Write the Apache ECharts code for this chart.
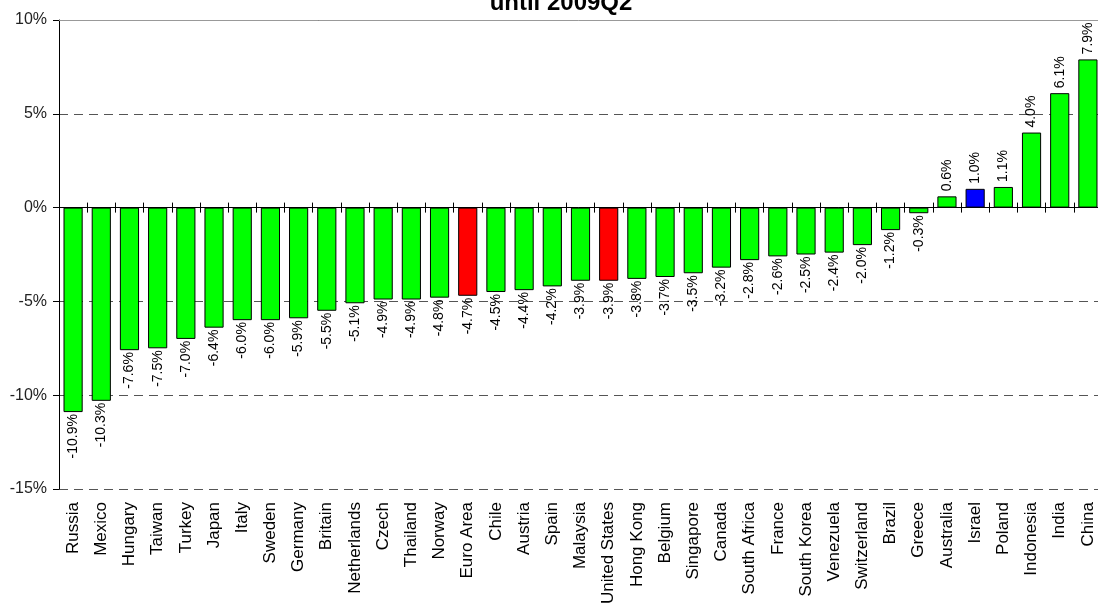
<!DOCTYPE html>
<html>
<head>
<meta charset="utf-8">
<script src="https://cdn.jsdelivr.net/npm/echarts@6/dist/echarts.min.js"></script>
<style>
html,body{margin:0;padding:0;background:#fff;}
#main{width:1098px;height:603px;}
</style>
</head>
<body>
<div id="main"></div>
<script>
// 国家列表,按数值从小到大
var countries = ['Russia','Mexico','Hungary','Taiwan','Turkey','Japan','Italy','Sweden','Germany','Britain',
  'Netherlands','Czech','Thailand','Norway','Euro Area','Chile','Austria','Spain','Malaysia','United States',
  'Hong Kong','Belgium','Singapore','Canada','South Africa','France','South Korea','Venezuela','Switzerland','Brazil',
  'Greece','Australia','Israel','Poland','Indonesia','India','China'];

// 每个国家的百分比
var values = [-10.9,-10.3,-7.6,-7.5,-7.0,-6.4,-6.0,-6.0,-5.9,-5.5,
  -5.1,-4.9,-4.9,-4.8,-4.7,-4.5,-4.4,-4.2,-3.9,-3.9,
  -3.8,-3.7,-3.5,-3.2,-2.8,-2.6,-2.5,-2.4,-2.0,-1.2,
  -0.3,0.6,1.0,1.1,4.0,6.1,7.9];

// 单独标红、标蓝的
var redOnes = ['Euro Area','United States'];
var blueOnes = ['Israel'];

var yTicks = [-15,-10,-5,0,5,10];

function barColor(name){
  if(redOnes.indexOf(name)>=0) return '#ff0000';
  if(blueOnes.indexOf(name)>=0) return '#0000ff';
  return '#00ff00';
}

var barData = values.map(function(v,i){
  var pos = v >= 0;
  return {
    value: v,
    itemStyle: {color: barColor(countries[i])},
    label: {
      position: pos ? 'top' : 'bottom',
      align: pos ? 'left' : 'right',
      distance: pos ? 5 : 2
    }
  };
});

var myChart = echarts.init(document.getElementById('main'));
var font = 'Liberation Sans, Arial, sans-serif';

var option = {
  animation: false,
  textStyle: {fontFamily: font},
  title: {
    text: 'until 2009Q2',
    left: 556,
    textAlign: 'center',
    top: -14,
    textStyle: {fontSize: 24, fontWeight: 'bold', color: '#000', fontFamily: font}
  },
  // 右边超出画面一点,China被切掉
  grid: {left: 59, width: 1043, top: 20, bottom: 114, containLabel: false, outerBoundsMode: 'none'},
  xAxis: [
    {
      // 0轴上的线和刻度(朝下)
      type: 'category',
      data: countries,
      position: 'bottom',
      axisLine: {show: true, onZero: true, onZeroAxisIndex: 0, lineStyle: {color: '#000', width: 1}},
      axisTick: {show: true, interval: 0, inside: false, length: 5, lineStyle: {color: '#000'}},
      axisLabel: {show: false},
      splitLine: {show: false}
    },
    {
      // 0轴上的刻度(朝上)
      type: 'category',
      data: countries,
      position: 'bottom',
      axisLine: {show: false, onZero: true, onZeroAxisIndex: 0},
      axisTick: {show: true, interval: 0, inside: true, length: 5, lineStyle: {color: '#000'}},
      axisLabel: {show: false}
    },
    {
      // 底部的国家名
      type: 'category',
      data: countries,
      position: 'bottom',
      axisLine: {show: false, onZero: false},
      axisTick: {show: false},
      axisLabel: {show: true, rotate: 90, interval: 0, margin: 13, fontSize: 17, color: '#000', fontFamily: font}
    },
    {
      // 顶部灰线
      type: 'category',
      data: countries,
      position: 'top',
      axisLine: {show: true, onZero: false, lineStyle: {color: '#999', width: 1}},
      axisTick: {show: false},
      axisLabel: {show: false}
    }
  ],
  yAxis: {
    type: 'value',
    min: yTicks[0],
    max: yTicks[yTicks.length-1],
    interval: 5,
    axisLine: {show: true, lineStyle: {color: '#000', width: 1}},
    axisTick: {show: true, length: 6, lineStyle: {color: '#000'}},
    axisLabel: {formatter: '{value}%', fontSize: 16, color: '#222', margin: 12, fontFamily: font},
    splitLine: {show: true, lineStyle: {color: '#555', type: [9, 6], width: 1}}
  },
  series: [
    {
      type: 'bar',
      xAxisIndex: 0,
      data: barData,
      barWidth: '68%',
      itemStyle: {borderColor: '#000', borderWidth: 1},
      label: {
        show: true,
        rotate: 90,
        verticalAlign: 'middle',
        fontSize: 14,
        color: '#000',
        fontFamily: font,
        formatter: function(p){ return p.value.toFixed(1) + '%'; }
      }
    }
  ]
};

myChart.setOption(option);
</script>
</body>
</html>
